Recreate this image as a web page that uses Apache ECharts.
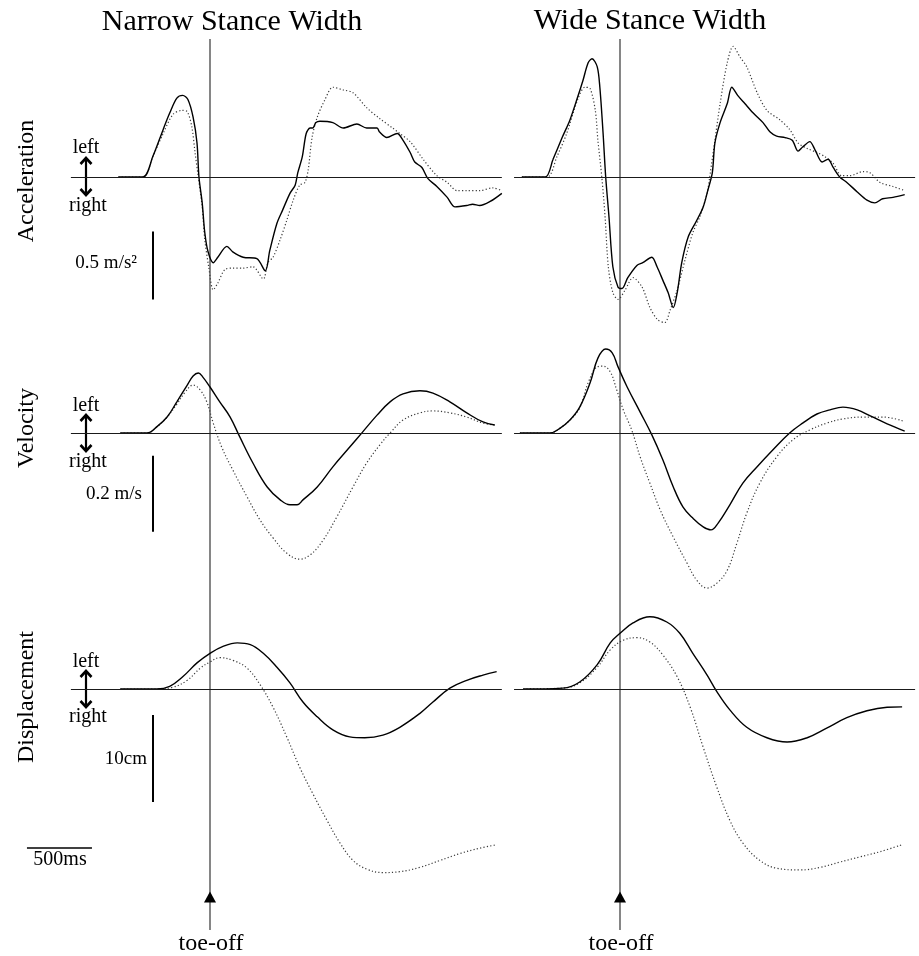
<!DOCTYPE html>
<html>
<head>
<meta charset="utf-8">
<script src="https://cdn.jsdelivr.net/npm/echarts@6/dist/echarts.min.js"></script>
<style>
html,body{margin:0;padding:0;background:#fff;}
#chart{width:919px;height:956px;}
</style>
</head>
<body>
<div id="chart"></div>
<script>
// ---------------- DATA (time in ms relative to toe-off; values in physical units) ----------------
const columnTitles = ['Narrow Stance Width', 'Wide Stance Width'];
const rowTitles = ['Acceleration', 'Velocity', 'Displacement'];
const scaleLabels = ['0.5 m/s²', '0.2 m/s', '10cm'];
const scaleValues = [0.5, 0.2, 10];      // vertical scale bar lengths
const timeScaleLabel = '500ms';
const timeScaleValue = 500;               // ms
const toeOffTime = 0;
const toeOffLabel = 'toe-off';

// Acceleration (m/s^2)
const accNarrowSolid = [[-705,0],[-515,0],[-440,0.15],[-360,0.35],[-310,0.47],[-255,0.58],[-210,0.60],[-170,0.57],[-130,0.44],[-100,0.25],[-85,0],[-60,-0.19],[-40,-0.41],[-15,-0.55],[25,-0.63],[60,-0.59],[130,-0.51],[175,-0.55],[255,-0.59],[360,-0.60],[425,-0.69],[460,-0.54],[515,-0.34],[560,-0.24],[615,-0.12],[655,-0.06],[675,0.03],[710,0.15],[740,0.32],[770,0.36],[790,0.36],[815,0.40],[845,0.41],[945,0.40],[1025,0.36],[1130,0.39],[1205,0.36],[1285,0.36],[1305,0.33],[1360,0.29],[1440,0.32],[1485,0.27],[1540,0.18],[1575,0.11],[1630,0.07],[1675,-0.01],[1745,-0.07],[1825,-0.15],[1885,-0.22],[1975,-0.21],[2020,-0.20],[2075,-0.21],[2155,-0.18],[2245,-0.12]];
const accNarrowDotted = [[-705,0],[-515,0],[-440,0.15],[-360,0.32],[-285,0.46],[-215,0.49],[-175,0.48],[-140,0.37],[-115,0.18],[-90,0],[-60,-0.22],[-40,-0.46],[-10,-0.66],[25,-0.83],[60,-0.78],[115,-0.68],[175,-0.67],[255,-0.67],[330,-0.66],[410,-0.75],[445,-0.63],[485,-0.59],[540,-0.46],[590,-0.32],[640,-0.17],[690,-0.06],[730,-0.04],[755,0.05],[785,0.29],[825,0.44],[885,0.57],[945,0.66],[1025,0.64],[1100,0.62],[1205,0.51],[1305,0.43],[1405,0.36],[1460,0.32],[1540,0.26],[1640,0.13],[1745,0.01],[1825,-0.04],[1900,-0.10],[1975,-0.10],[2075,-0.10],[2175,-0.08],[2245,-0.10]];
const accWideSolid = [[-755,0],[-575,0],[-515,0.13],[-445,0.29],[-385,0.42],[-325,0.59],[-285,0.71],[-245,0.84],[-215,0.87],[-175,0.81],[-155,0.66],[-130,0.32],[-110,0],[-85,-0.29],[-55,-0.66],[-15,-0.81],[15,-0.82],[60,-0.74],[130,-0.65],[175,-0.63],[245,-0.59],[285,-0.66],[330,-0.76],[370,-0.85],[410,-0.96],[440,-0.85],[475,-0.63],[525,-0.44],[590,-0.32],[640,-0.22],[675,-0.10],[710,0.03],[730,0.25],[770,0.40],[825,0.54],[860,0.66],[905,0.60],[960,0.54],[1025,0.47],[1100,0.40],[1155,0.33],[1205,0.30],[1270,0.29],[1325,0.27],[1370,0.19],[1405,0.22],[1460,0.26],[1500,0.20],[1555,0.11],[1600,0.13],[1640,0.07],[1690,0],[1745,-0.04],[1825,-0.11],[1900,-0.17],[1960,-0.19],[2020,-0.16],[2100,-0.15],[2190,-0.13]];
const accWideDotted = [[-755,0],[-560,0],[-485,0.15],[-410,0.32],[-325,0.57],[-270,0.66],[-230,0.65],[-190,0.49],[-170,0.27],[-140,0],[-115,-0.29],[-90,-0.66],[-55,-0.85],[-15,-0.90],[40,-0.83],[100,-0.74],[170,-0.81],[230,-0.96],[290,-1.05],[345,-1.07],[385,-0.98],[440,-0.83],[500,-0.61],[560,-0.41],[615,-0.29],[670,-0.12],[690,0],[730,0.27],[770,0.54],[825,0.84],[870,0.96],[925,0.88],[975,0.81],[1055,0.62],[1130,0.49],[1230,0.42],[1305,0.35],[1370,0.25],[1440,0.21],[1515,0.18],[1575,0.15],[1640,0.10],[1705,0.01],[1770,0.01],[1870,0.04],[1925,0.03],[2000,-0.04],[2100,-0.07],[2190,-0.10]];

// Velocity (m/s)
const velNarrowSolid = [[-690,0],[-485,0],[-410,0.016],[-330,0.042],[-255,0.082],[-175,0.126],[-130,0.150],[-90,0.158],[-55,0.147],[0,0.121],[75,0.082],[155,0.042],[230,-0.011],[330,-0.079],[440,-0.142],[540,-0.176],[615,-0.189],[670,-0.189],[715,-0.176],[825,-0.142],[945,-0.089],[1075,-0.037],[1175,0.003],[1285,0.047],[1385,0.082],[1485,0.103],[1615,0.111],[1715,0.105],[1845,0.082],[1975,0.053],[2100,0.029],[2190,0.021]];
const velNarrowDotted = [[-690,0],[-485,0],[-410,0.016],[-330,0.042],[-255,0.076],[-190,0.108],[-130,0.126],[-75,0.113],[-25,0.082],[25,0.026],[90,-0.037],[175,-0.097],[285,-0.168],[385,-0.229],[485,-0.276],[590,-0.316],[690,-0.332],[770,-0.321],[870,-0.282],[975,-0.221],[1100,-0.142],[1205,-0.079],[1305,-0.032],[1385,0],[1485,0.034],[1615,0.053],[1715,0.058],[1845,0.053],[1975,0.042],[2100,0.026],[2190,0.021]];
const velWideSolid = [[-770,0],[-540,0],[-460,0.013],[-385,0.034],[-310,0.068],[-230,0.132],[-170,0.197],[-110,0.221],[-60,0.211],[-15,0.174],[55,0.121],[155,0.055],[245,-0.005],[330,-0.071],[410,-0.142],[485,-0.195],[560,-0.224],[640,-0.247],[700,-0.255],[755,-0.237],[845,-0.189],[945,-0.132],[1055,-0.089],[1175,-0.045],[1305,0],[1405,0.026],[1515,0.050],[1615,0.061],[1715,0.068],[1825,0.061],[1925,0.045],[2055,0.024],[2190,0.005]];
const velWideDotted = [[-770,0],[-540,0],[-460,0.013],[-385,0.034],[-310,0.066],[-245,0.132],[-175,0.174],[-130,0.176],[-75,0.161],[-25,0.113],[25,0.061],[90,0.008],[155,-0.063],[230,-0.132],[310,-0.203],[410,-0.274],[515,-0.342],[590,-0.387],[670,-0.408],[745,-0.395],[825,-0.361],[900,-0.289],[975,-0.211],[1075,-0.132],[1205,-0.063],[1330,-0.018],[1460,0.008],[1590,0.026],[1715,0.037],[1870,0.042],[2020,0.042],[2175,0.032]];

// Displacement (cm)
const dispNarrowSolid = [[-690,0],[-410,0],[-310,0.3],[-210,1.4],[-100,3.0],[0,4.1],[100,4.9],[210,5.3],[310,5.1],[410,4.1],[515,2.5],[615,0.7],[715,-1.5],[825,-3.2],[945,-4.7],[1075,-5.5],[1190,-5.6],[1330,-5.3],[1460,-4.4],[1615,-2.8],[1715,-1.5],[1845,0.1],[1975,1.0],[2100,1.6],[2205,2.0]];
const dispNarrowDotted = [[-690,0],[-410,0],[-285,0.2],[-175,1.0],[-75,2.4],[0,3.1],[75,3.6],[175,3.3],[285,2.4],[385,0.5],[485,-2.1],[590,-5.5],[690,-9.0],[790,-12.0],[900,-15.1],[1000,-17.7],[1100,-19.7],[1205,-20.7],[1330,-21.1],[1460,-21.0],[1615,-20.5],[1770,-19.7],[1925,-18.9],[2075,-18.3],[2205,-17.9]];
const dispWideSolid = [[-745,0],[-440,0.1],[-310,0.8],[-175,2.8],[-75,5.3],[0,6.4],[100,7.6],[230,8.3],[360,7.7],[460,6.4],[560,4.1],[670,1.6],[745,-0.3],[845,-2.4],[975,-4.4],[1130,-5.6],[1285,-6.1],[1440,-5.6],[1590,-4.5],[1745,-3.3],[1900,-2.5],[2055,-2.1],[2170,-2.05]];
const dispWideDotted = [[-745,0],[-440,0.1],[-310,0.7],[-175,2.5],[-75,4.5],[25,5.6],[130,5.9],[230,5.4],[330,3.9],[440,1.4],[540,-2.1],[640,-6.7],[745,-11.3],[845,-15.1],[945,-17.7],[1075,-19.7],[1205,-20.6],[1385,-20.8],[1540,-20.5],[1690,-19.9],[1845,-19.3],[2000,-18.7],[2170,-17.9]];

const panelData = [
  [[accNarrowSolid, accNarrowDotted], [accWideSolid, accWideDotted]],
  [[velNarrowSolid, velNarrowDotted], [velWideSolid, velWideDotted]],
  [[dispNarrowSolid, dispNarrowDotted], [dispWideSolid, dispWideDotted]]
];

// ---------------- LAYOUT ----------------
const PX_PER_MS = 0.13;
const cols = [
  { toeX: 210, axis: [-1460, 2245], base: [-1070, 2245] },
  { toeX: 620, axis: [-815, 2270],  base: [-815, 2270] }
];
const rows = [
  { baseY: 177, ppu: 136, range: [-1.2, 1.1],   barTop: -0.40, smooth: 0.3 },
  { baseY: 433, ppu: 380, range: [-0.45, 0.3],  barTop: -0.06, smooth: 0.4 },
  { baseY: 689, ppu: 8.7, range: [-24, 10],     barTop: -3.0,  smooth: 0.4 }
];
const SCALE_BAR_T = -440;        // time position of vertical scale bars
const TIME_BAR = { t: -1408, y: -18.2 };
const TOE_TOP = 39, TOE_BOTTOM = 930;
const SERIF = '"Liberation Serif", "Times New Roman", serif';

const grids = [], xAxes = [], yAxes = [], series = [];

rows.forEach((row, r) => {
  cols.forEach((col, c) => {
    const idx = grids.length;
    grids.push({
      left: col.toeX + col.axis[0] * PX_PER_MS,
      width: (col.axis[1] - col.axis[0]) * PX_PER_MS,
      top: row.baseY - row.range[1] * row.ppu,
      height: (row.range[1] - row.range[0]) * row.ppu,
      containLabel: false
    });
    xAxes.push({ type: 'value', gridIndex: idx, min: col.axis[0], max: col.axis[1], show: false });
    yAxes.push({ type: 'value', gridIndex: idx, min: row.range[0], max: row.range[1], show: false });

    const ml = [
      [{ coord: [col.base[0], 0], lineStyle: { color: '#1a1a1a', width: 1.1, type: 'solid' } }, { coord: [col.base[1], 0] }]
    ];
    if (c === 0) {
      ml.push([{ coord: [SCALE_BAR_T, row.barTop], lineStyle: { color: '#000', width: 2, type: 'solid' } },
               { coord: [SCALE_BAR_T, row.barTop - scaleValues[r]] }]);
      if (r === 2) {
        ml.push([{ coord: [TIME_BAR.t, TIME_BAR.y], lineStyle: { color: '#000', width: 1.6, type: 'solid' } },
                 { coord: [TIME_BAR.t + timeScaleValue, TIME_BAR.y] }]);
      }
    }
    const [solid, dotted] = panelData[r][c];
    series.push({
      type: 'line', xAxisIndex: idx, yAxisIndex: idx, data: dotted,
      showSymbol: false, symbol: 'none', smooth: row.smooth,
      lineStyle: { color: '#3a3a3a', width: 1.2, type: [1.2, 2.2] },
      silent: true, animation: false, z: 2
    });
    series.push({
      type: 'line', xAxisIndex: idx, yAxisIndex: idx, data: solid,
      showSymbol: false, symbol: 'none', smooth: row.smooth,
      lineStyle: { color: '#000', width: 1.4, type: 'solid' },
      silent: true, animation: false, z: 3,
      markLine: { silent: true, symbol: ['none', 'none'], label: { show: false }, animation: false, data: ml }
    });
  });
});

// Toe-off overlay grids
cols.forEach((col, c) => {
  const idx = grids.length;
  grids.push({
    left: col.toeX + col.axis[0] * PX_PER_MS,
    width: (col.axis[1] - col.axis[0]) * PX_PER_MS,
    top: TOE_TOP, height: TOE_BOTTOM - TOE_TOP
  });
  xAxes.push({ type: 'value', gridIndex: idx, min: col.axis[0], max: col.axis[1], show: false });
  yAxes.push({ type: 'value', gridIndex: idx, min: 0, max: 1, show: false });
  series.push({
    type: 'line', xAxisIndex: idx, yAxisIndex: idx,
    data: [[toeOffTime, 0], [toeOffTime, 1]],
    showSymbol: false, symbol: 'none',
    lineStyle: { color: '#222', width: 1.1 }, silent: true, animation: false, z: 1,
    markPoint: {
      silent: true, animation: false,
      symbol: 'triangle', symbolSize: [12, 11],
      itemStyle: { color: '#000' }, label: { show: false },
      data: [{ coord: [toeOffTime, 0.037] }]
    }
  });
});

// ---------------- ANNOTATIONS ----------------
const graphic = [];
function txt(x, y, text, size, opts) {
  graphic.push(Object.assign({
    type: 'text', x: x, y: y, silent: true,
    style: { text: text, font: size + 'px ' + SERIF, fill: '#000', textAlign: 'center', textVerticalAlign: 'middle' }
  }, opts || {}));
}
txt(232, 22, columnTitles[0], 30);
txt(650, 21, columnTitles[1], 30);

const rowLabelY = [181, 428, 697];
const leftY = [148, 406, 662], rightY = [206, 462, 717];
const arrowSpan = [[158, 195], [415, 451], [671, 707]];
const scaleLabelPos = [[137, 263], [142, 494], [147, 759]];
rows.forEach((row, r) => {
  txt(27, rowLabelY[r], rowTitles[r], 24, { rotation: Math.PI / 2 });
  txt(86, leftY[r], 'left', 20);
  txt(88, rightY[r], 'right', 20);
  const [a, b] = arrowSpan[r];
  const ax = 86;
  graphic.push({ type: 'polyline', silent: true, shape: { points: [[ax, a + 1], [ax, b - 1]] }, style: { stroke: '#000', lineWidth: 2.2, fill: null } });
  graphic.push({ type: 'polyline', silent: true, shape: { points: [[ax - 5.5, a + 6], [ax, a], [ax + 5.5, a + 6]] }, style: { stroke: '#000', lineWidth: 2.6, fill: null, lineJoin: 'miter' } });
  graphic.push({ type: 'polyline', silent: true, shape: { points: [[ax - 5.5, b - 6], [ax, b], [ax + 5.5, b - 6]] }, style: { stroke: '#000', lineWidth: 2.6, fill: null, lineJoin: 'miter' } });
  const p = scaleLabelPos[r];
  graphic.push({ type: 'text', x: p[0], y: p[1], silent: true,
    style: { text: scaleLabels[r], font: '19px ' + SERIF, fill: '#000', textAlign: 'right', textVerticalAlign: 'middle' } });
});
txt(60, 860, timeScaleLabel, 20);
txt(211, 944, toeOffLabel, 24);
txt(621, 944, toeOffLabel, 24);

const chart = echarts.init(document.getElementById('chart'), null, { renderer: 'canvas' });
chart.setOption({
  backgroundColor: '#fff',
  animation: false,
  grid: grids,
  xAxis: xAxes,
  yAxis: yAxes,
  series: series,
  graphic: graphic
});
</script>
</body>
</html>
